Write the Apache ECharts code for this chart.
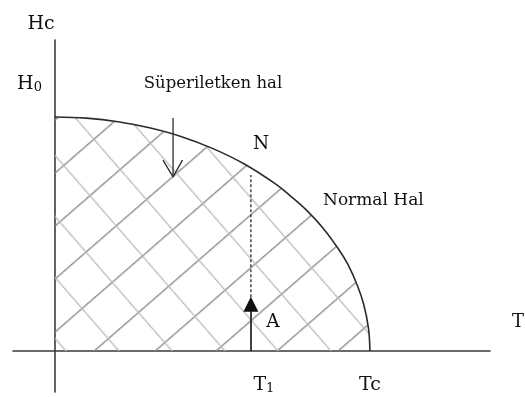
<!DOCTYPE html>
<html>
<head>
<meta charset="utf-8">
<script src="https://cdn.jsdelivr.net/npm/echarts@6/dist/echarts.min.js"></script>
<style>
  html, body { margin: 0; padding: 0; background: #fff; }
  #chart { width: 525px; height: 397px; }
</style>
</head>
<body>
<div id="chart"></div>
<script>
// Critical field curve Hc(T): T in units of Tc, H in units of H0
const temperature   = [0, 0.1, 0.2, 0.3, 0.4, 0.5, 0.6, 0.7, 0.75, 0.8, 0.85, 0.9, 0.93, 0.96, 0.98, 0.995, 1];
const criticalField = [1, 0.995, 0.98, 0.954, 0.917, 0.866, 0.80, 0.714, 0.66, 0.60, 0.527, 0.436, 0.37, 0.28, 0.2, 0.1, 0];

// Temperature tick marks and their labels
const xTickValues = [0.622, 1];
const xTickLabels = ['{t|T}{s|1}', '{t|Tc}'];
const yTickValues = [1];
const yTickLabels = ['{t|H}{s|0}'];

// Path from A to N at T1
const t1 = 0.622;
const arrowA = [0, 0.20];       // solid part, ends in the arrow head
const dashedAN = [0.23, 0.752]; // dotted continuation towards N

// Arrow pointing into the superconducting region
const scArrowT = 0.375;
const scArrowH = [0.996, 0.744];
const scHeadT = [0.343, 0.375, 0.405];
const scHeadH = [0.816, 0.744, 0.816];

const curve = temperature.map((t, i) => [t, criticalField[i]]);

// Cross-hatch tile for the superconducting region
const S = 40;
const tile = document.createElement('canvas');
tile.width = S; tile.height = S;
const g = tile.getContext('2d');
g.fillStyle = '#8e8e8e'; g.fillRect(0, 0, S, 1.4);
g.fillStyle = '#bcbcbc'; g.fillRect(0, 0, 1.3, S);

const ink = '#2b2b2b';
const textInk = '#111';
const serif = "'DejaVu Serif', 'Liberation Serif', serif";
const rich = {
  t: { fontFamily: serif, fontSize: 19, fill: textInk },
  s: { fontFamily: serif, fontSize: 13, fill: textInk, padding: [7, 0, 0, 0] }
};

const chart = echarts.init(document.getElementById('chart'), null, { renderer: 'canvas' });
chart.setOption({
  animation: false,
  backgroundColor: '#fff',
  grid: { left: 13, right: 35, top: 40, bottom: 5, containLabel: false, outerBoundsMode: 'none' },
  xAxis: {
    type: 'value', min: -0.133, max: 1.381,
    axisLine: { onZero: true, lineStyle: { color: '#3a3a3a', width: 1.6 } },
    axisTick: { show: false },
    splitLine: { show: false },
    axisLabel: { show: false }
  },
  yAxis: {
    type: 'value', min: -0.175, max: 1.329,
    axisLine: { onZero: true, lineStyle: { color: '#3a3a3a', width: 1.6 } },
    axisTick: { show: false },
    splitLine: { show: false },
    axisLabel: { show: false }
  },
  series: [
    {
      name: 'Hc(T)', type: 'line', data: curve, smooth: 0.4, symbol: 'none',
      lineStyle: { color: ink, width: 1.6 },
      areaStyle: {
        opacity: 1,
        color: { image: tile, repeat: 'repeat', x: 85, y: 252, rotation: -41 * Math.PI / 180 }
      },
      z: 2
    },
    {
      name: 'A', type: 'lines', coordinateSystem: 'cartesian2d', polyline: false,
      symbol: ['none', 'triangle'], symbolSize: [0, 15],
      lineStyle: { color: '#111', width: 1.6, opacity: 1 },
      data: [{ coords: [[t1, arrowA[0]], [t1, arrowA[1]]] }],
      z: 3
    },
    {
      name: 'A-N', type: 'line', symbol: 'none',
      lineStyle: { color: '#3a3a3a', width: 1.4, type: [3, 2] },
      data: [[t1, dashedAN[0]], [t1, dashedAN[1]]],
      z: 3
    },
    {
      name: 'arrow shaft', type: 'line', symbol: 'none',
      lineStyle: { color: ink, width: 1.3 },
      data: [[scArrowT, scArrowH[0]], [scArrowT, scArrowH[1]]],
      z: 3
    },
    {
      name: 'arrow head', type: 'line', symbol: 'none',
      lineStyle: { color: ink, width: 1.3 },
      data: scHeadT.map((t, i) => [t, scHeadH[i]]),
      z: 3
    }
  ]
});

// Text: axis names, annotations and tick labels placed through the axis scales
const xZero = chart.convertToPixel({ xAxisIndex: 0 }, 0);
const yZero = chart.convertToPixel({ yAxisIndex: 0 }, 0);
const text = (x, y, str, size, align) => ({
  type: 'text', x, y, z: 10,
  style: { text: str, font: `${size}px ${serif}`, fill: textInk, align: align || 'center', verticalAlign: 'middle', rich }
});
const labels = [
  text(41, 24, 'Hc', 19),
  text(213, 84, 'Süperiletken hal', 16.5),
  text(323, 201, 'Normal Hal', 17, 'left'),
  text(261, 144, 'N', 18.5),
  text(273, 322, 'A', 18.5),
  text(512, 322, 'T', 18, 'left')
];
// T1 label sits a little to the right of its tick
const xLabelShift = [13, 0];
xTickValues.forEach((v, i) => {
  labels.push(text(chart.convertToPixel({ xAxisIndex: 0 }, v) + xLabelShift[i], yZero + 34, xTickLabels[i], 19));
});
yTickValues.forEach((v, i) => {
  labels.push(text(xZero - 13, chart.convertToPixel({ yAxisIndex: 0 }, v) - 33, yTickLabels[i], 19, 'right'));
});
chart.setOption({ graphic: labels });
</script>
</body>
</html>
